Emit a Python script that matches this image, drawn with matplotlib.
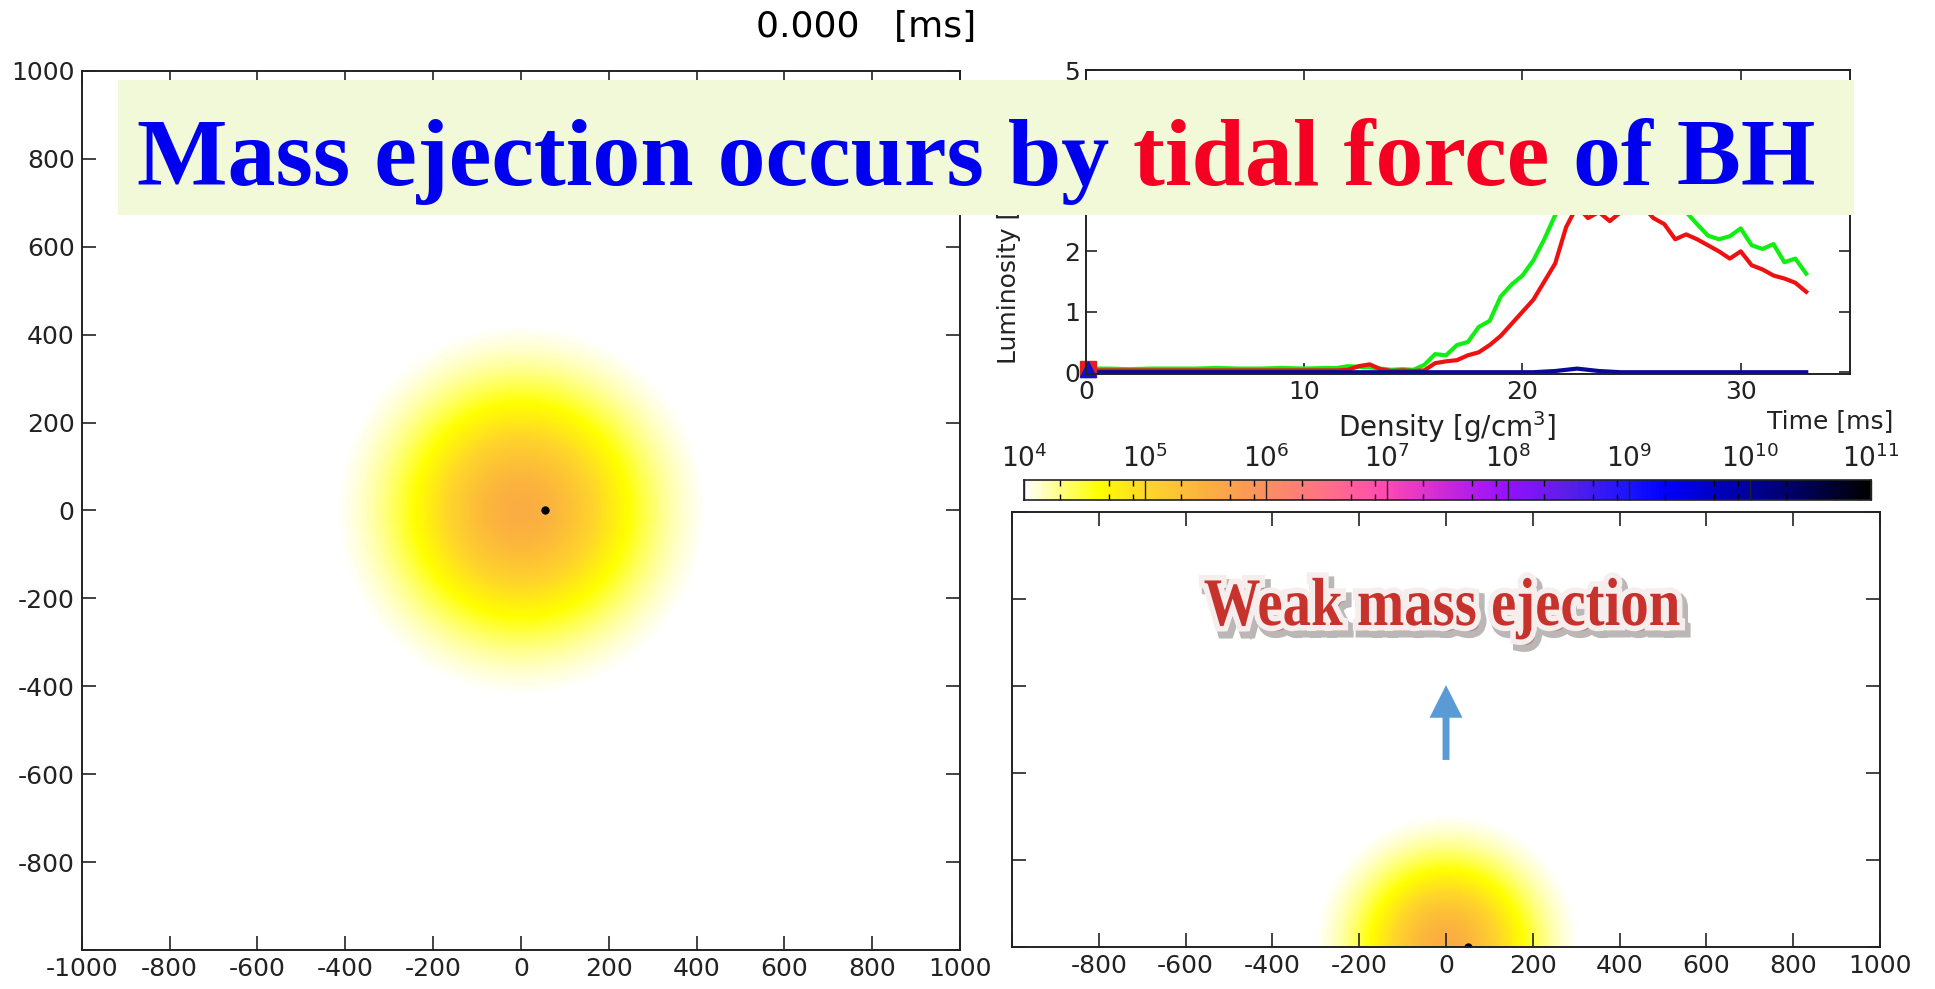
import numpy as np
import matplotlib
matplotlib.use("Agg")
import matplotlib.pyplot as plt
from matplotlib.colors import LinearSegmentedColormap, LogNorm
from matplotlib.patches import Rectangle, PathPatch
from matplotlib.textpath import TextPath
from matplotlib.font_manager import FontProperties
from matplotlib.transforms import Affine2D, IdentityTransform
from matplotlib.ticker import LogLocator, NullFormatter
import matplotlib.patheffects as pe

plt.rcParams['font.family'] = 'DejaVu Sans'
plt.rcParams['axes.unicode_minus'] = False

# ---- values ----
time_label = "0.000   [ms]"
grid_ticks = [-1000, -800, -600, -400, -200, 0, 200, 400, 600, 800, 1000]
upper_ticks = [0, 200, 400, 600, 800, 1000]

t_ms = [0, 1, 2, 3, 4, 5, 6, 7, 8, 9, 10, 11, 11.5, 12, 12.5, 13, 13.5, 14, 14.5,
        15, 15.5, 16, 16.5, 17, 17.5, 18, 18.5, 19, 19.5, 20, 20.5, 21, 21.5, 22,
        22.5, 23, 23.5, 24, 24.5, 25, 25.5, 26, 26.5, 27, 27.5, 28, 28.5, 29, 29.5,
        30, 30.5, 31, 31.5, 32, 32.5, 33]
lum_green = [0.06, 0.06, 0.05, 0.06, 0.06, 0.06, 0.07, 0.06, 0.06, 0.07, 0.06, 0.07,
             0.07, 0.10, 0.09, 0.08, 0.06, 0.04, 0.05, 0.04, 0.12, 0.30, 0.28, 0.45,
             0.50, 0.75, 0.85, 1.25, 1.45, 1.60, 1.85, 2.20, 2.60, 3.00, 3.20, 3.30,
             3.35, 3.30, 3.35, 3.40, 3.30, 3.10, 3.00, 2.80, 2.65, 2.45, 2.26, 2.20,
             2.25, 2.38, 2.10, 2.04, 2.12, 1.82, 1.88, 1.63]
lum_red = [0.03, 0.03, 0.03, 0.03, 0.03, 0.03, 0.03, 0.03, 0.03, 0.03, 0.03, 0.03,
           0.03, 0.04, 0.10, 0.13, 0.05, 0.02, 0.03, 0.02, 0.03, 0.15, 0.18, 0.20,
           0.28, 0.33, 0.45, 0.60, 0.80, 1.00, 1.20, 1.50, 1.80, 2.40, 2.75, 2.55,
           2.65, 2.50, 2.65, 2.70, 2.75, 2.55, 2.45, 2.20, 2.28, 2.20, 2.10, 2.00,
           1.88, 2.00, 1.77, 1.70, 1.60, 1.55, 1.48, 1.33]
lum_blue = [0.0, 0.0, 0.0, 0.0, 0.0, 0.0, 0.0, 0.0, 0.0, 0.0, 0.0, 0.0,
            0.0, 0.0, 0.0, 0.0, 0.0, 0.0, 0.0, 0.0, 0.0, 0.0, 0.0, 0.0,
            0.0, 0.0, 0.0, 0.0, 0.0, 0.0, 0.0, 0.01, 0.02, 0.04, 0.06, 0.04,
            0.02, 0.01, 0.0, 0.0, 0.0, 0.0, 0.0, 0.0, 0.0, 0.0, 0.0, 0.0,
            0.0, 0.0, 0.0, 0.0, 0.0, 0.0, 0.0, 0.0]

rho_min, rho_max = 1e4, 1e11
log_rho_center = 5.55         # log10 density at the star centre
star_xy = (270.0, 430.0)      # (profile scale, edge radius) in the x-y slice
star_xz = (195.0, 310.0)      # same for the x-z slice
bh_xy = (55, 0)
bh_xz = (50, 0)

banner_pieces = [("Mass ejection occurs by ", "#0000f0"),
                 ("tidal force", "#f50022"),
                 (" of BH", "#0000f0")]
note_text = "Weak mass ejection"

# density colour table (log10 rho, colour)
cmap_stops = [(4.0, "#ffffff"), (4.6, "#ffff00"), (5.0, "#ffd62a"), (5.5, "#fbb040"),
              (6.0, "#fa8f62"), (6.5, "#ff7088"), (7.0, "#ff48b4"), (7.5, "#c828d8"),
              (8.0, "#9410ff"), (8.5, "#5a1ee8"), (9.0, "#1a14ff"), (9.3, "#0000ff"),
              (10.0, "#00009a"), (10.5, "#000050"), (11.0, "#000000")]

cmap = LinearSegmentedColormap.from_list(
    "dens", [((v - 4.0) / 7.0, c) for v, c in cmap_stops])
cmap.set_under("white")
norm = LogNorm(rho_min, rho_max)


def density(a, b, star):
    s, R = star
    edge = np.exp(-(R / s) ** 2)
    f = (np.exp(-(a**2 + b**2) / s**2) - edge) / (1 - edge)
    f = np.clip(f, 0, None)
    return 10 ** (4.0 + (log_rho_center - 4.0) * f)


W, H = 1935, 989
fig = plt.figure(figsize=(W / 100, H / 100), dpi=100)
spine_c = "#222222"
tick_fs = 18

# ---- left panel: x-y slice ----
ax1 = fig.add_axes([0.0422, 0.0394, 0.454, 0.889])
gx = np.linspace(-1000, 1000, 600)
X, Y = np.meshgrid(gx, gx)
ax1.imshow(density(X, Y, star_xy), extent=(-1000, 1000, -1000, 1000),
           origin="lower", cmap=cmap, norm=norm, interpolation="bilinear")
ax1.plot(*bh_xy, "o", color="black", ms=5)
ax1.set_aspect("auto")
ax1.set_xlim(-1000, 1000)
ax1.set_ylim(-1000, 1000)
ax1.set_xticks(grid_ticks)
ax1.set_yticks(grid_ticks)
ax1.set_yticklabels([""] + [str(v) for v in grid_ticks[1:]])
ax1.tick_params(direction="in", length=10, width=1.2, top=True, right=True,
                labelsize=tick_fs, colors=spine_c, pad=5)
for s in ax1.spines.values():
    s.set_linewidth(1.4)
    s.set_color(spine_c)

fig.text(866 / W, 1 - 27 / H, time_label, ha="center", va="center", fontsize=26)

# ---- luminosity panel ----
ax2 = fig.add_axes([0.5612, 0.6218, 0.3948, 0.3074])
ax2.plot(t_ms, lum_green, color="#11ee11", lw=3)
ax2.plot(t_ms, lum_red, color="#ee1111", lw=3)
ax2.plot(t_ms, lum_blue, color="#0a0a9a", lw=3)
ax2.plot([0.1], [0.05], "s", color="#e02020", ms=11, clip_on=False)
ax2.plot([0.1], [0.05], "^", color="#1010d0", ms=11, clip_on=False)
ax2.set_xlim(0, 35)
ax2.set_ylim(-0.03, 5)
ax2.set_xticks([0, 10, 20, 30])
ax2.set_yticks([0, 1, 2, 3, 4, 5])
ax2.tick_params(direction="in", length=8, width=1.2, top=True, right=True,
                labelsize=tick_fs, colors=spine_c, pad=4)
ax2.set_ylabel("Luminosity [arb. units]", fontsize=18, color=spine_c)
ax2.yaxis.set_label_coords(-0.085, 0.5)
for s in ax2.spines.values():
    s.set_linewidth(1.4)
    s.set_color(spine_c)

fig.text(1447 / W, 1 - 427 / H, "Density [g/cm$^3$]", ha="center", va="center",
         fontsize=20, color=spine_c)
fig.text(1830 / W, 1 - 421 / H, "Time [ms]", ha="center", va="center",
         fontsize=18, color=spine_c)

# ---- colour bar ----
cax = fig.add_axes([0.5292, 0.4944, 0.4377, 0.0202])
edges = np.logspace(4, 11, 701)
mids = np.sqrt(edges[:-1] * edges[1:])
cax.pcolormesh(edges, [0, 1], mids[None, :], cmap=cmap, norm=norm)
cax.set_xscale("log")
cax.set_xlim(rho_min, rho_max)
cax.set_ylim(0, 1)
cax.set_yticks([])
cax.xaxis.set_major_locator(LogLocator(base=10, numticks=10))
cax.xaxis.set_minor_locator(LogLocator(base=10, subs=[2, 5, 8], numticks=20))
cax.xaxis.set_minor_formatter(NullFormatter())
cax.tick_params(which="major", direction="in", length=14.4, width=1.0, top=True,
                bottom=False, labeltop=True, labelbottom=False, labelsize=19,
                colors=spine_c, pad=5)
cax.tick_params(which="minor", direction="in", length=4, width=1.0, top=True,
                bottom=True)
for s in cax.spines.values():
    s.set_linewidth(1.2)
    s.set_color(spine_c)

# ---- lower right panel: x-z slice ----
ax3 = fig.add_axes([0.523, 0.0425, 0.4486, 0.4398])
gz = np.linspace(0, 1000, 300)
X2, Z2 = np.meshgrid(gx, gz)
ax3.imshow(density(X2, Z2, star_xz), extent=(-1000, 1000, 0, 1000),
           origin="lower", cmap=cmap, norm=norm, interpolation="bilinear")
ax3.plot(*bh_xz, "o", color="black", ms=5)
ax3.set_aspect("auto")
ax3.set_xlim(-1000, 1000)
ax3.set_ylim(0, 1000)
ax3.set_xticks(grid_ticks)
ax3.set_xticklabels([""] + [str(v) for v in grid_ticks[1:]])
ax3.set_yticks(upper_ticks)
ax3.set_yticklabels([])
ax3.tick_params(direction="in", length=10, width=1.2, top=True, right=True,
                labelsize=tick_fs, colors=spine_c, pad=5)
for s in ax3.spines.values():
    s.set_linewidth(1.4)
    s.set_color(spine_c)

ax3.arrow(0, 430, 0, 172, width=16, head_width=76, head_length=75,
          length_includes_head=True, fc="#5b9bd5", ec="none")

# condensed serif note, drawn as a path in figure pixels
note_prop = FontProperties(family="Liberation Serif", weight="bold")
note_path = TextPath((0, 0), note_text, size=68, prop=note_prop)
nb = note_path.get_extents()
sx = 475 / nb.width
note_tr = Affine2D().translate(-nb.x0 - nb.width / 2, 0).scale(sx, 1.0) \
    .translate(1442, H - 625)
note = PathPatch(note_path, transform=note_tr + IdentityTransform(),
                 facecolor="#c8322c", edgecolor="none", zorder=12)
note.set_path_effects([pe.Stroke(linewidth=10, foreground="#6a6060", alpha=0.45,
                                 offset=(3, -4)),
                       pe.Stroke(linewidth=8, foreground="#f6eded"),
                       pe.Normal()])
fig.patches.append(note)

# ---- banner ----
fig.patches.append(Rectangle((118 / W, 1 - 215 / H), 1736 / W, 135 / H,
                             transform=fig.transFigure, facecolor="#f1f9d9",
                             edgecolor="none", zorder=10))

renderer = fig.canvas.get_renderer()
font_kw = dict(family="Liberation Serif", weight="bold", fontsize=69)


def width_px(s):
    t = fig.text(0, 0, s + "|", **font_kw)
    w = t.get_window_extent(renderer).width
    t.remove()
    return w


bar_w = width_px("")
full_text = "".join(p for p, _ in banner_pieces)
total_w = width_px(full_text) - bar_w
x_start = 976 - total_w / 2
prefix = ""
for piece, col in banner_pieces:
    x = x_start + (width_px(prefix) - bar_w if prefix else 0)
    fig.text(x / W, 1 - 185 / H, piece, color=col, ha="left", va="baseline",
             zorder=11, **font_kw)
    prefix += piece

fig.savefig("out.png", dpi=100)
